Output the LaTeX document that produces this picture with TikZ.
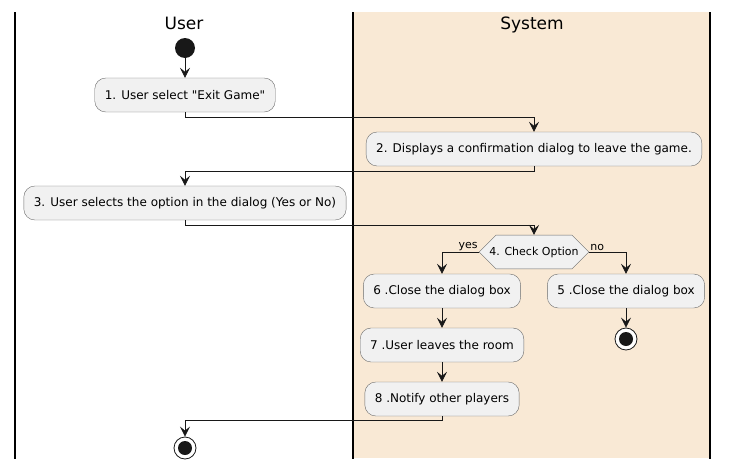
\documentclass[tikz,border=0pt]{standalone}
\usepackage{fontspec}
\setmainfont{DejaVu Sans}[Ligatures=TeXOff]
\usetikzlibrary{arrows.meta,shapes.misc}
\definecolor{lanefill}{HTML}{F9E9D5}
\definecolor{actfill}{HTML}{F1F1F1}
\definecolor{actdraw}{HTML}{6A6A6A}
\definecolor{ink}{HTML}{181818}

\begin{document}
\begin{tikzpicture}[
      x = 1pt, y = -1pt,
      flow/.style={-{Stealth[length=10pt, width=10pt, inset=4pt]}, thick, ink},
      lane/.style={line width = 1.2pt, black},
      lane title/.style={font = \fontsize{17}{20}\selectfont, anchor = base},
      activity/.style={
        draw = actdraw,
        fill = actfill,
        rounded corners = 11pt,
        minimum height = 34pt,
        inner xsep = 10pt,
        font = \fontsize{12}{14}\selectfont,
      },
      decision/.style={
        chamfered rectangle,
        chamfered rectangle xsep = 7pt,
        chamfered rectangle ysep = 11.5pt,
        draw = actdraw,
        fill = actfill,
        minimum height = 23pt,
        inner xsep = 5pt,
        inner ysep = 0pt,
        font = \fontsize{11}{13}\selectfont,
      },
      guard/.style={font = \fontsize{11}{13}\selectfont, inner sep = 1pt},
      start/.style={circle, fill = ink, minimum size = 20pt, inner sep = 0pt},
      stop/.style={circle, draw = ink, fill = white, thick, minimum size = 22pt,
        inner sep = 0pt, path picture = {\fill[ink] (path picture bounding box.center) circle (7pt);}},
    ]
    \useasboundingbox (0, 0) rectangle (729, 469);

    % swimlanes
    \fill[lanefill] (353, 12) rectangle (710, 458);
    \draw[lane] (15, 12) -- (15, 459);
    \draw[lane] (353, 12) -- (353, 459);
    \draw[lane] (710, 12) -- (710, 459);
    \node[lane title] (user) at (184, 29) {User};
    \node[lane title] (system) at (532, 29) {System};

    \node[start] (init) at (185, 48) {};
    \node[activity] (exit) at (185, 95) {1. User select "Exit Game"};
    \node[activity] (confirm) at (534, 149) {2. Displays a confirmation dialog to leave the game.};
    \node[activity] (choose) at (185, 203) {3. User selects the option in the dialog (Yes or No)};
    \node[decision] (check) at (534, 252) {4. Check Option};
    \node[activity] (closeyes) at (442, 291) {6 .Close the dialog box};
    \node[activity] (closeno) at (626, 291) {5 .Close the dialog box};
    \node[activity] (leave) at (442, 345) {7 .User leaves the room};
    \node[activity] (notify) at (442, 399) {8 .Notify other players};
    \node[stop] (endno) at (626, 339) {};
    \node[stop] (final) at (185, 448) {};

    \draw[flow] (init) -- (exit);
    \draw[flow] (exit.south) -- ++(0, 5) -| (confirm.north);
    \draw[flow] (confirm.south) -- ++(0, 5) -| (choose.north);
    \draw[flow] (choose.south) -- ++(0, 5) -| (check.north);
    \draw[flow] (check.west) -| (closeyes.north);
    \draw[flow] (check.east) -| (closeno.north);
    \node[guard, anchor = south east] (yes) at (check.west) {yes};
    \node[guard, anchor = south west] (no) at (check.east) {no};
    \draw[flow] (closeyes) -- (leave);
    \draw[flow] (leave) -- (notify);
    \draw[flow] (closeno) -- (endno);
    \draw[flow] (notify.south) -- ++(0, 4) -| (final.north);
  \end{tikzpicture}
\end{document}
